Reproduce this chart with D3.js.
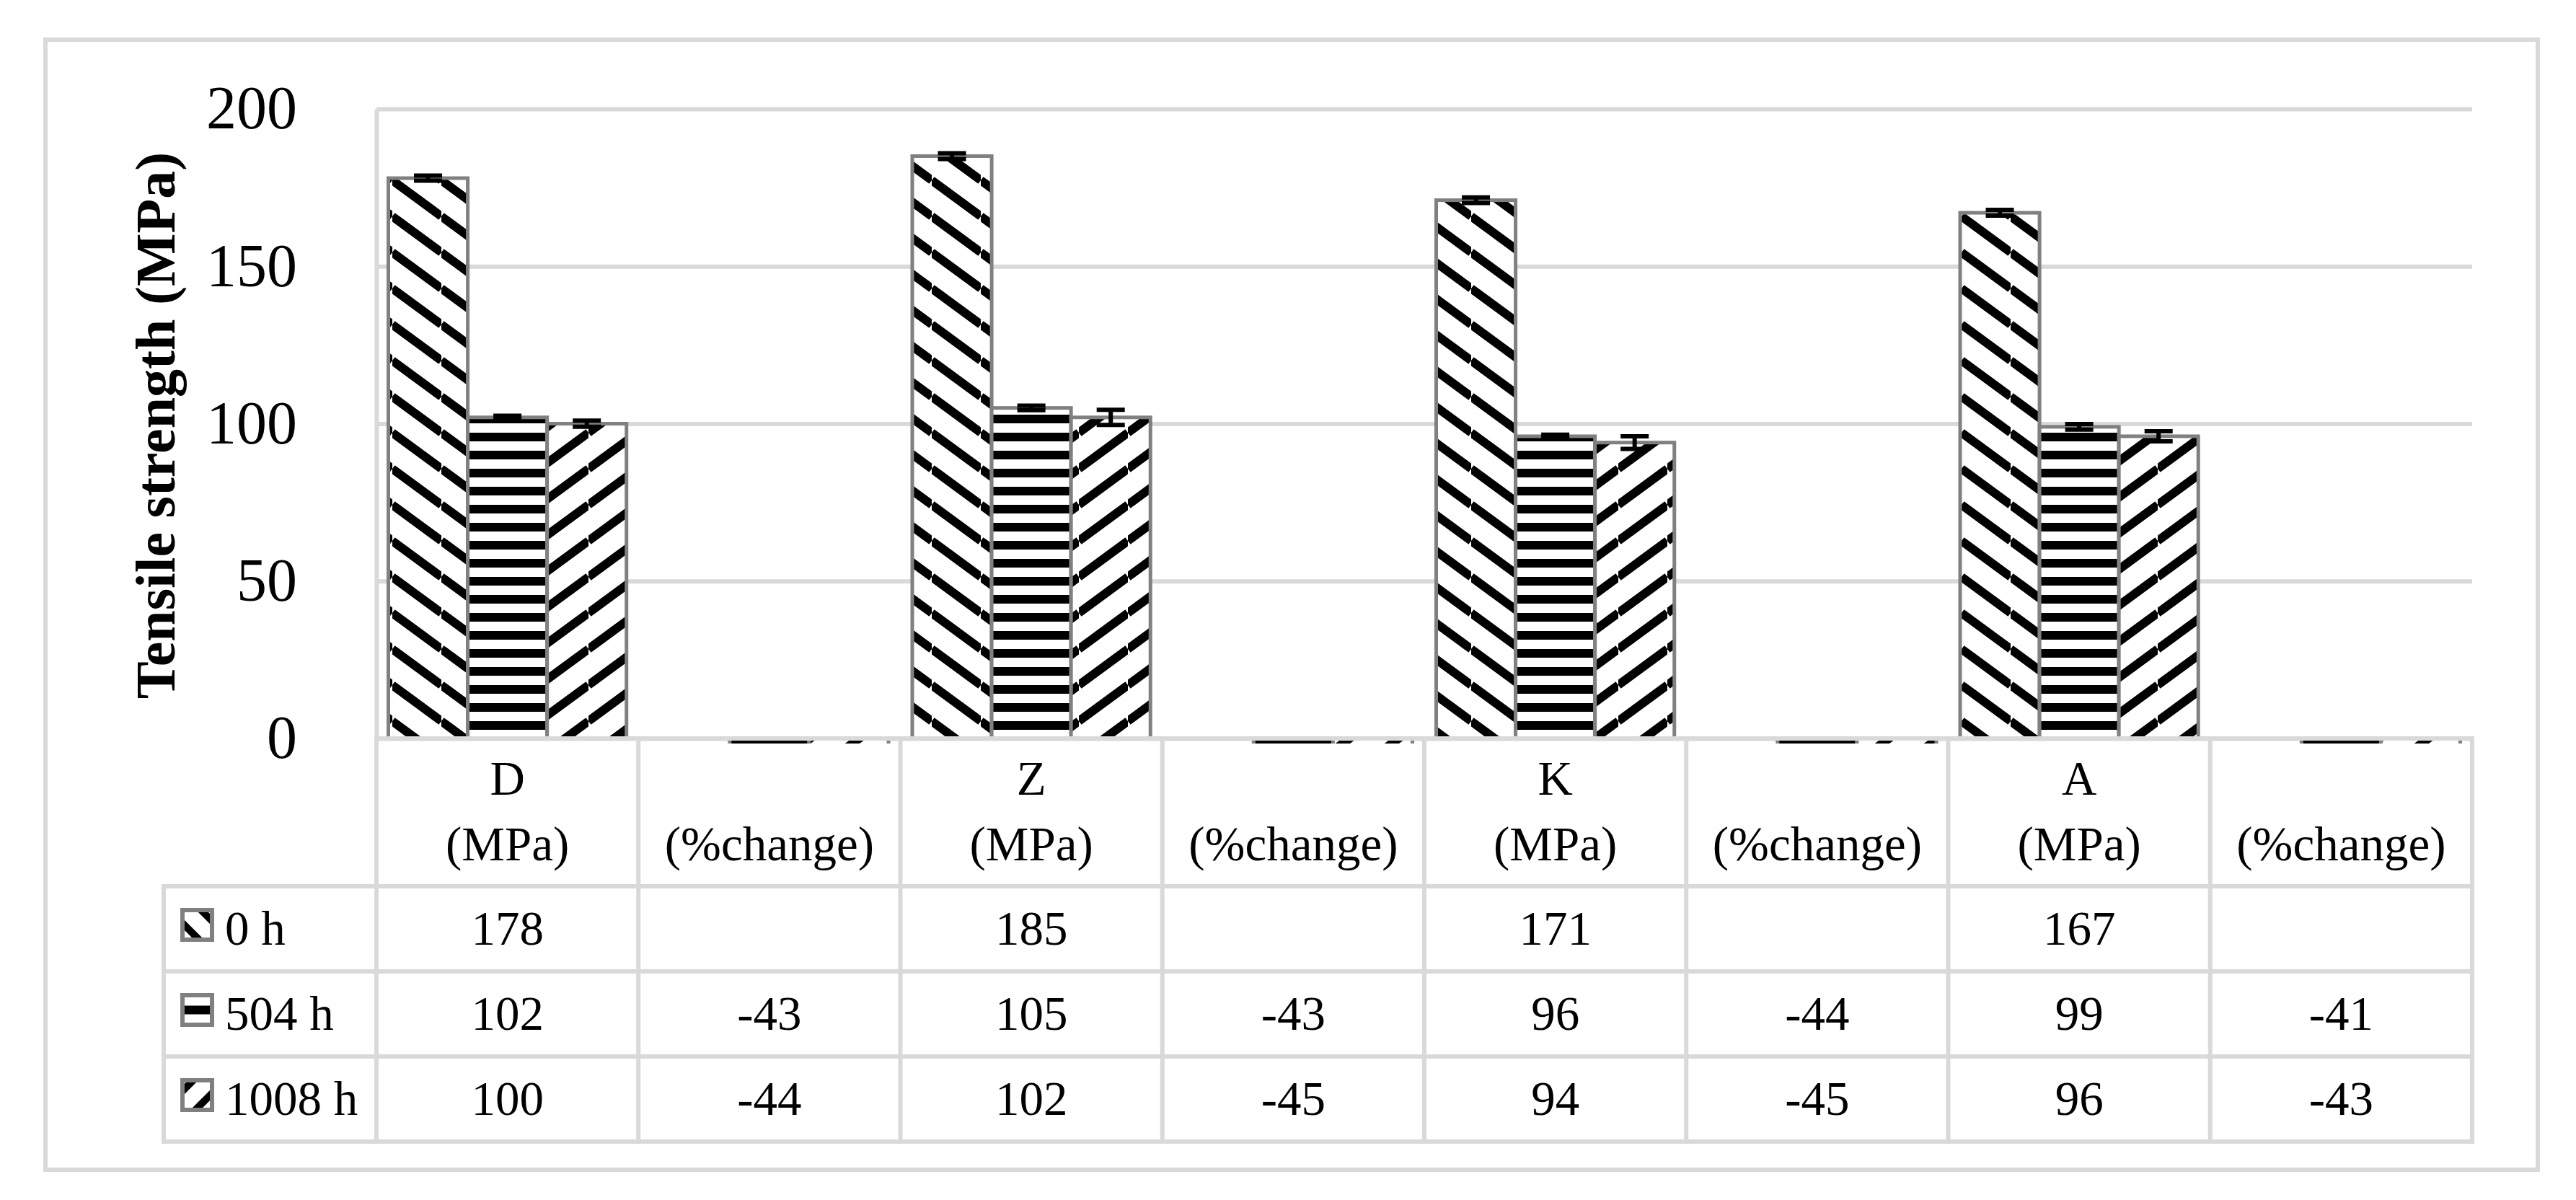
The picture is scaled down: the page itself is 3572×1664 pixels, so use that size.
<!DOCTYPE html>
<html><head><meta charset="utf-8">
<script src="https://cdn.jsdelivr.net/npm/d3@7"></script>
<style>html,body{margin:0;padding:0;background:#fff;} svg{display:block;}</style>
</head><body>
<script>
// ---------- data ----------
const groups = ["D", "Z", "K", "A"];
const headerTop = ["D", "", "Z", "", "K", "", "A", ""];
const headerBottom = ["(MPa)", "(%change)", "(MPa)", "(%change)", "(MPa)", "(%change)", "(MPa)", "(%change)"];
const seriesNames = ["0 h", "504 h", "1008 h"];
const val0h   = [178, null, 185, null, 171, null, 167, null];
const val504h = [102, -43, 105, -43, 96, -44, 99, -41];
const val1008h = [100, -44, 102, -45, 94, -45, 96, -43];
const err0h   = [0.8, null, 0.9, null, 0.9, null, 0.9, null];
const err504h = [0.5, null, 0.7, null, 0.5, null, 0.9, null];
const err1008h = [1.0, null, 2.4, null, 2.0, null, 1.6, null];
const yTicks = [0, 50, 100, 150, 200];
const yTitle = "Tensile strength (MPa)";

const seriesVals = [val0h, val504h, val1008h];
const seriesErr = [err0h, err504h, err1008h];
const patternIds = ["pDown", "pHorz", "pUp"];
const colKeys = headerTop.map((d, i) => i + "");

// ---------- layout ----------
const W = 3572, H = 1664;
const plotL = 522, plotR = 3428, plotT = 151, plotB = 1024;
const tableL = 227;
const rowEdges = [1229, 1347, 1465, 1583];
const gridColor = "#d9d9d9";
const font = "'Liberation Serif', 'Times New Roman', serif";

const svg = d3.select("body").append("svg").attr("width", W).attr("height", H);

// patterns
const defs = svg.append("defs");
const pw = 68, ph = 50;
const pd = defs.append("pattern").attr("id", "pDown").attr("patternUnits", "userSpaceOnUse")
  .attr("width", pw).attr("height", ph);
pd.append("rect").attr("width", pw).attr("height", ph).attr("fill", "#fff");
pd.append("path").attr("d", `M0,${-ph} L${pw},0 M0,0 L${pw},${ph} M0,${ph} L${pw},${2*ph}`)
  .attr("stroke", "#000").attr("stroke-width", 12);
const pu = defs.append("pattern").attr("id", "pUp").attr("patternUnits", "userSpaceOnUse")
  .attr("width", pw).attr("height", ph);
pu.append("rect").attr("width", pw).attr("height", ph).attr("fill", "#fff");
pu.append("path").attr("d", `M0,0 L${pw},${-ph} M0,${ph} L${pw},0 M0,${2*ph} L${pw},${ph}`)
  .attr("stroke", "#000").attr("stroke-width", 12);
const phz = defs.append("pattern").attr("id", "pHorz").attr("patternUnits", "userSpaceOnUse")
  .attr("width", 20).attr("height", 25);
phz.append("rect").attr("width", 20).attr("height", 25).attr("fill", "#fff");
phz.append("rect").attr("width", 20).attr("height", 12).attr("fill", "#000");

defs.append("clipPath").attr("id", "plotClip").append("rect")
  .attr("x", plotL - 10).attr("y", 0).attr("width", plotR - plotL + 20).attr("height", plotB + 7);

// outer border
svg.append("rect").attr("x", 63).attr("y", 55).attr("width", 3456).attr("height", 1567)
  .attr("fill", "none").attr("stroke", gridColor).attr("stroke-width", 6);

// scales
const x = d3.scaleBand().domain(colKeys).range([plotL, plotR]).paddingInner(0).paddingOuter(0);
const xs = d3.scaleBand().domain(seriesNames).range([0, x.bandwidth()]).paddingInner(0).paddingOuter(0.15);
const y = d3.scaleLinear().domain([0, 200]).range([plotB, plotT]);

// axis + gridlines
const yAxis = d3.axisLeft(y).tickValues(yTicks).tickSizeInner(-(plotR - plotL)).tickSizeOuter(0).tickPadding(110);
const ag = svg.append("g").attr("transform", `translate(${plotL},0)`).call(yAxis);
ag.selectAll(".tick line").attr("stroke", gridColor).attr("stroke-width", 6);
ag.select(".domain").attr("stroke", gridColor).attr("stroke-width", 6);
ag.selectAll(".tick text").attr("font-family", font).attr("font-size", 84).attr("fill", "#000");

// y title
svg.append("text").attr("transform", `translate(242,590) rotate(-90)`)
  .attr("text-anchor", "middle").attr("font-family", font).attr("font-weight", "bold")
  .attr("font-size", 78).attr("fill", "#000").text(yTitle);

// bars
const barsG = svg.append("g").attr("clip-path", "url(#plotClip)");
const barData = [];
seriesNames.forEach((s, si) => {
  seriesVals[si].forEach((v, ci) => {
    if (v !== null) barData.push({ s, si, ci, v, e: seriesErr[si][ci] });
  });
});
barsG.selectAll("rect.bar").data(barData).join("rect").attr("class", "bar")
  .attr("x", d => x(colKeys[d.ci]) + xs(d.s))
  .attr("width", xs.bandwidth())
  .attr("y", d => Math.min(y(d.v), y(0)))
  .attr("height", d => Math.abs(y(d.v) - y(0)))
  .attr("fill", d => `url(#${patternIds[d.si]})`)
  .attr("stroke", "#808080").attr("stroke-width", 5);

// error bars
const eb = svg.append("g").attr("stroke", "#000").attr("stroke-width", 6);
barData.filter(d => d.e !== null && d.e !== undefined).forEach(d => {
  const cx = x(colKeys[d.ci]) + xs(d.s) + xs.bandwidth() / 2;
  const y1 = y(d.v + d.e), y2 = y(d.v - d.e);
  eb.append("line").attr("x1", cx).attr("x2", cx).attr("y1", y1).attr("y2", y2);
  eb.append("line").attr("x1", cx - 19.5).attr("x2", cx + 19.5).attr("y1", y1).attr("y2", y1);
  eb.append("line").attr("x1", cx - 19.5).attr("x2", cx + 19.5).attr("y1", y2).attr("y2", y2);
});

// data table
const tg = svg.append("g").attr("stroke", gridColor).attr("stroke-width", 6);
tg.append("line").attr("x1", plotL - 3).attr("x2", plotR + 3).attr("y1", plotB).attr("y2", plotB);
rowEdges.forEach(ry => tg.append("line").attr("x1", tableL - 3).attr("x2", plotR + 3).attr("y1", ry).attr("y2", ry));
tg.append("line").attr("x1", tableL).attr("x2", tableL).attr("y1", rowEdges[0]).attr("y2", rowEdges[3]);
const colEdges = colKeys.map(k => x(k)).concat([plotR]);
colEdges.forEach(cx => tg.append("line").attr("x1", cx).attr("x2", cx).attr("y1", plotB).attr("y2", rowEdges[3]));

const tt = svg.append("g").attr("font-family", font).attr("font-size", 67).attr("fill", "#000").attr("text-anchor", "middle");
colKeys.forEach((k, i) => {
  const cx = x(k) + x.bandwidth() / 2;
  if (headerTop[i]) tt.append("text").attr("x", cx).attr("y", 1102).text(headerTop[i]);
  tt.append("text").attr("x", cx).attr("y", 1193).text(headerBottom[i]);
});
seriesNames.forEach((s, si) => {
  const cy = (rowEdges[si] + rowEdges[si + 1]) / 2;
  seriesVals[si].forEach((v, ci) => {
    if (v === null) return;
    tt.append("text").attr("x", x(colKeys[ci]) + x.bandwidth() / 2).attr("y", cy + 22).text(v);
  });
  // legend label
  svg.append("text").attr("x", 312).attr("y", cy + 22).attr("font-family", font)
    .attr("font-size", 67).attr("fill", "#000").text(s);
  // swatch
  const sx = 253, sy = cy - 23 - 3, ss = 41;
  const cid = "sw" + si;
  defs.append("clipPath").attr("id", cid).append("rect").attr("x", sx).attr("y", sy).attr("width", ss).attr("height", ss);
  const g = svg.append("g");
  g.append("rect").attr("x", sx).attr("y", sy).attr("width", ss).attr("height", ss).attr("fill", "#fff");
  const sg = g.append("g").attr("clip-path", `url(#${cid})`).attr("stroke", "#000").attr("stroke-width", 10);
  if (si === 0) {
    sg.append("path").attr("d", `M${sx - 5},${sy + 13} L${sx + 50},${sy + 68} M${sx - 5},${sy - 31} L${sx + 50},${sy + 24}`);
  } else if (si === 1) {
    sg.append("rect").attr("x", sx).attr("y", sy + ss / 2 - 6).attr("width", ss).attr("height", 12).attr("fill", "#000").attr("stroke", "none");
  } else {
    sg.append("path").attr("d", `M${sx + ss + 5},${sy + 13} L${sx + ss - 50},${sy + 68} M${sx + ss + 5},${sy - 31} L${sx + ss - 50},${sy + 24}`);
  }
  g.append("rect").attr("x", sx).attr("y", sy).attr("width", ss).attr("height", ss)
    .attr("fill", "none").attr("stroke", "#808080").attr("stroke-width", 6);
});
</script>
</body></html>
